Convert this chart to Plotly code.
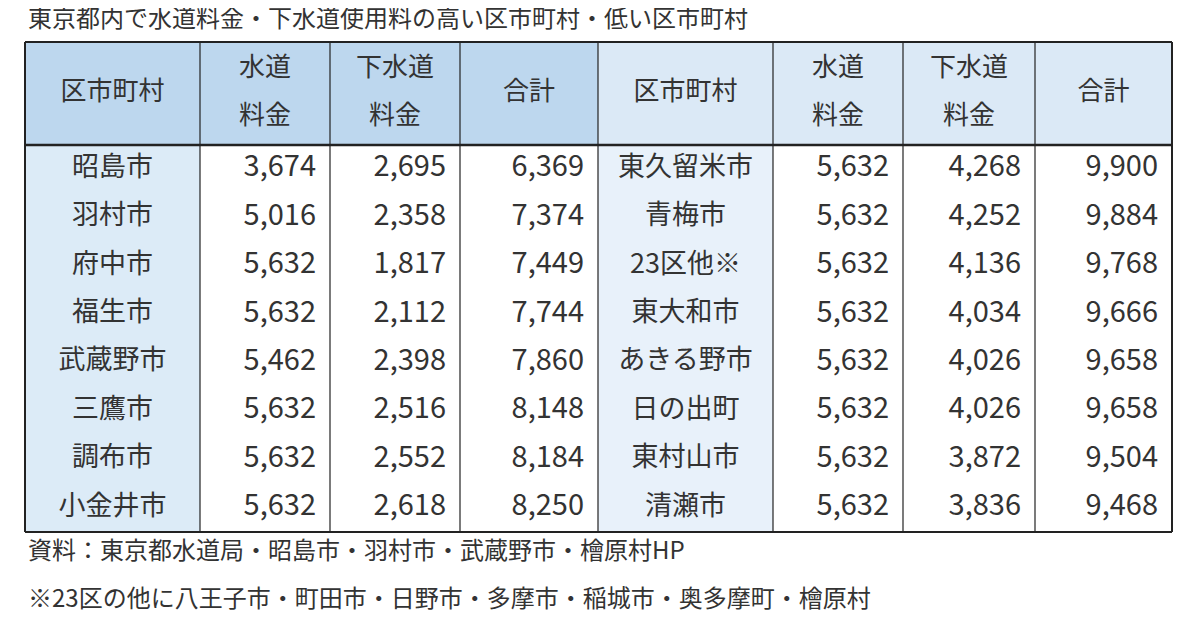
import plotly.graph_objects as go

title = "東京都内で水道料金・下水道使用料の高い区市町村・低い区市町村"
headers = [["区市町村"], ["水道", "料金"], ["下水道", "料金"], ["合計"]]
low_names = ["昭島市", "羽村市", "府中市", "福生市", "武蔵野市", "三鷹市", "調布市", "小金井市"]
low_water = [3674, 5016, 5632, 5632, 5462, 5632, 5632, 5632]
low_sewer = [2695, 2358, 1817, 2112, 2398, 2516, 2552, 2618]
low_total = [6369, 7374, 7449, 7744, 7860, 8148, 8184, 8250]
high_names = ["東久留米市", "青梅市", "23区他※", "東大和市", "あきる野市", "日の出町", "東村山市", "清瀬市"]
high_water = [5632] * 8
high_sewer = [4268, 4252, 4136, 4034, 4026, 4026, 3872, 3836]
high_total = [9900, 9884, 9768, 9666, 9658, 9658, 9504, 9468]
notes = ["資料：東京都水道局・昭島市・羽村市・武蔵野市・檜原村HP",
         "※23区の他に八王子市・町田市・日野市・多摩市・稲城市・奥多摩町・檜原村"]

# layout geometry (pixels)
edges = [25, 200, 330, 460, 598, 773, 903, 1035, 1172]
top, hbot, bot = 42, 145, 532
n = len(low_names)
rh = (bot - hbot) / n
FONT = "Noto Sans CJK JP"
TC = "#333333"

fig = go.Figure()
shapes = []
def rect(x0, x1, y0, y1, color):
    shapes.append(dict(type="rect", x0=x0, x1=x1, y0=y0, y1=y1, fillcolor=color, line_width=0, layer="below"))
rect(edges[0], edges[4], top, hbot, "#bdd7ee")
rect(edges[0], edges[1], hbot, bot, "#dcebf7")
rect(edges[4], edges[8], top, hbot, "#dbe9f6")
rect(edges[4], edges[5], hbot, bot, "#e8f1fa")
for e in edges:
    w = 2 if e in (edges[0], edges[8]) else 1.2
    shapes.append(dict(type="line", x0=e, x1=e, y0=top, y1=bot, line=dict(color="#222", width=w)))
for yy, w in [(top, 2), (hbot, 2.5), (bot, 2)]:
    shapes.append(dict(type="line", x0=edges[0], x1=edges[8], y0=yy, y1=yy, line=dict(color="#222", width=w)))

def txt(xs, ys, texts, pos, size=25):
    fig.add_trace(go.Scatter(x=xs, y=ys, text=texts, mode="text", textposition=pos,
                             textfont=dict(family=FONT, size=size, color=TC), hoverinfo="skip", showlegend=False))

hy = (top + hbot) / 2
for side in (0, 4):
    for i, h in enumerate(headers):
        cx = (edges[side + i] + edges[side + i + 1]) / 2
        if len(h) == 1:
            txt([cx], [hy], h, "middle center", 26)
        else:
            txt([cx, cx], [hy - 24, hy + 24], h, "middle center", 26)

ys = [hbot + rh * (i + 0.5) for i in range(n)]
for side, cols in ((0, [low_names, low_water, low_sewer, low_total]), (4, [high_names, high_water, high_sewer, high_total])):
    txt([(edges[side] + edges[side + 1]) / 2] * n, ys, cols[0], "middle center", 27)
    for j in range(1, 4):
        xr = edges[side + j + 1] - 14
        txt([xr] * n, ys, [f"{v:,}" for v in cols[j]], "middle left", 29)

txt([28], [21], [title], "middle right", 24)
txt([28, 28], [553, 601], notes, "middle right", 24)

fig.update_layout(width=1200, height=630, margin=dict(l=0, r=0, t=0, b=0),
                  plot_bgcolor="white", paper_bgcolor="white", shapes=shapes,
                  xaxis=dict(range=[8, 1208], visible=False, fixedrange=True),
                  yaxis=dict(range=[638, 8], visible=False, fixedrange=True))
fig.write_html("out.html")
